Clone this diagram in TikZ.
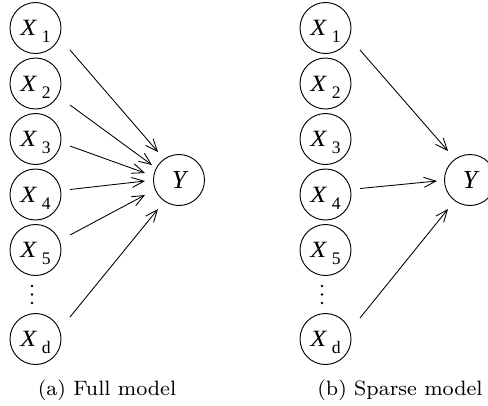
\documentclass[tikz,border=0pt]{standalone}
\usepackage{fontspec}
\usepackage{graphicx}
\usetikzlibrary{calc,arrows.meta}
\newfontfamily\tms{Liberation Serif}
\newcommand{\myxlab}[1]{\scalebox{1.12}[1]{\tms\fontsize{17.5}{19}\selectfont\itshape X}\kern4.2pt\raisebox{-5.5pt}{\tms\fontsize{13.2}{14}\selectfont #1}}
\newcommand{\myylab}{{\tms\fontsize{19.5}{21}\selectfont\itshape Y}}
\begin{document}
\begin{tikzpicture}[x=0.75pt,y=-0.75pt,
  var/.style={draw,circle,line width=0.7pt,minimum size=38.25pt,inner sep=0pt,text depth=0pt},
  arr/.style={line width=0.65pt,-{Straight Barb[length=9pt,width=7.5pt,line width=0.65pt]}},
  dot/.style={fill,circle,inner sep=0pt,minimum size=2.2pt},
  captext/.style={anchor=base,inner sep=0pt}]
\useasboundingbox (0,0) rectangle (488,405);
% ---------- (a) full model
\node[var] (a1) at (35.5,28)    {\myxlab{1}};
\node[var] (a2) at (35.5,83.5)  {\myxlab{2}};
\node[var] (a3) at (35.5,139)   {\myxlab{3}};
\node[var] (a4) at (35.5,194.5) {\myxlab{4}};
\node[var] (a5) at (35.5,250)   {\myxlab{5}};
\node[dot] (adot1) at (32,286) {};
\node[dot] (adot2) at (32,294.5) {};
\node[dot] (adot3) at (32,303) {};
\node[var] (ad) at (35.5,339)   {\myxlab{d}};
\node[var] (ay) at (179,180)    {\myylab};
\draw[arr] ($(a1)+(34.5,22)$)   -- ($(ay)+(-21,-28)$);
\draw[arr] ($(a2)+(34.5,21.5)$) -- ($(ay)+(-27,-15)$);
\draw[arr] ($(a3)+(34.5,7)$)    -- ($(ay)+(-34,-7)$);
\draw[arr] ($(a4)+(34.5,-5)$)   -- ($(ay)+(-34,1)$);
\draw[arr] ($(a5)+(34.5,-15)$)  -- ($(ay)+(-34,15)$);
\draw[arr] ($(ad)+(34.5,-22)$)  -- ($(ay)+(-21,29)$);
\node[captext] (capa) at (107,395) {\scalebox{1.95}{\fontsize{8}{10}\selectfont (a) Full model}};
% ---------- (b) sparse model
\node[var] (b1) at (325.5,28)    {\myxlab{1}};
\node[var] (b2) at (325.5,83.5)  {\myxlab{2}};
\node[var] (b3) at (325.5,139)   {\myxlab{3}};
\node[var] (b4) at (325.5,194.5) {\myxlab{4}};
\node[var] (b5) at (325.5,250)   {\myxlab{5}};
\node[dot] (bdot1) at (322,286) {};
\node[dot] (bdot2) at (322,294.5) {};
\node[dot] (bdot3) at (322,303) {};
\node[var] (bd) at (325.5,339)   {\myxlab{d}};
\node[var] (by) at (470,180)     {\myylab};
\draw[arr] ($(b1)+(34.5,22)$)   -- ($(by)+(-22,-29)$);
\draw[arr] ($(b4)+(34.5,-6)$)   -- ($(by)+(-33,1)$);
\draw[arr] ($(bd)+(34.5,-21)$)  -- ($(by)+(-22,29)$);
\node[captext] (capb) at (400,395) {\scalebox{1.95}{\fontsize{8}{10}\selectfont (b) Sparse model}};
\end{tikzpicture}
\end{document}
